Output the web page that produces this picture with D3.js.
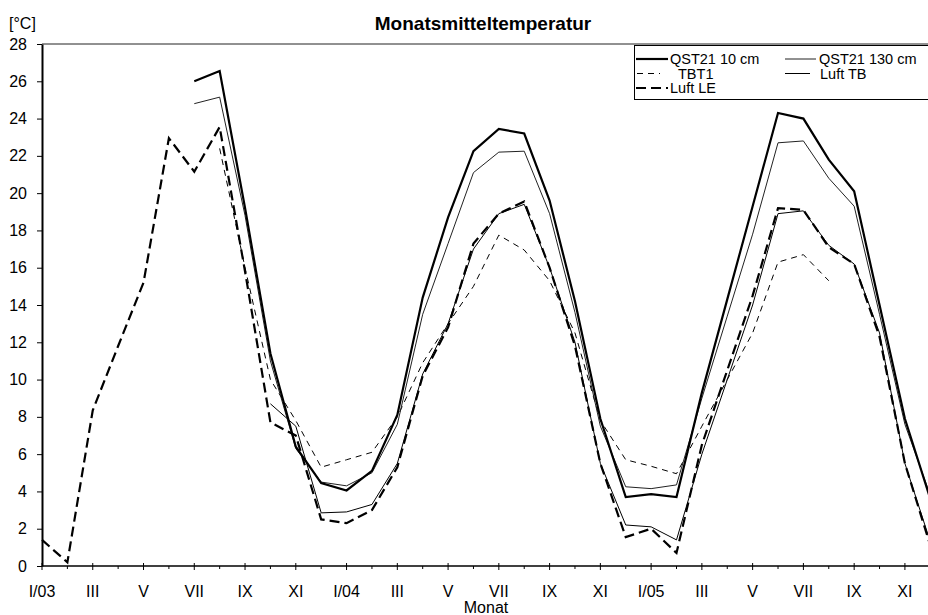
<!DOCTYPE html>
<html><head><meta charset="utf-8">
<script src="https://cdn.jsdelivr.net/npm/d3@7"></script>
<style>body{margin:0;background:#fff}svg{display:block;font-family:"Liberation Sans",Arial,sans-serif}</style>
</head><body><svg id="c" width="928" height="615"></svg>
<script>
// month index 0 = I/2003 ... 35 = XII/2005
const months = d3.range(36);
const tickLabels = ["I/03","III","V","VII","IX","XI","I/04","III","V","VII","IX","XI","I/05","III","V","VII","IX","XI"];
const yTicks = [0,2,4,6,8,10,12,14,16,18,20,22,24,26,28];
const N = null;
const qst10  = [N,N,N,N,N,N,26.0,26.55,19.2,11.4,6.4,4.45,4.05,5.1,8.1,14.4,18.7,22.25,23.45,23.2,19.6,14.2,7.9,3.7,3.85,3.7,9.3,14.3,19.3,24.3,24.0,21.8,20.1,14.0,7.9,3.6];
const qst130 = [N,N,N,N,N,N,24.8,25.15,18.8,11.0,6.3,4.5,4.3,5.0,7.6,13.5,17.3,21.1,22.2,22.25,18.9,13.6,7.5,4.25,4.15,4.35,9.0,13.4,17.8,22.7,22.8,20.8,19.3,13.5,7.6,3.8];
const tbt1   = [N,N,N,N,N,N,N,22.4,16.0,10.0,7.8,5.3,5.7,6.1,8.0,10.9,13.0,15.0,17.75,16.95,15.3,12.5,7.8,5.7,5.35,4.95,7.5,10.0,12.5,16.3,16.7,15.3,N,N,N,N];
const luftTB = [N,N,N,N,N,N,N,N,N,8.7,7.5,2.85,2.9,3.3,5.5,10.3,13.0,17.0,18.9,19.4,16.0,12.0,5.5,2.2,2.1,1.4,6.0,10.0,14.0,18.9,19.05,17.2,16.2,12.5,5.5,1.3];
const luftLE = [1.4,0.2,8.35,11.8,15.2,22.95,21.15,23.55,15.8,7.7,7.0,2.5,2.3,3.0,5.3,10.2,12.8,17.3,18.9,19.55,16.0,11.8,5.5,1.55,2.0,0.7,6.5,10.5,14.5,19.2,19.1,17.1,16.2,12.3,5.5,1.1];

const svg = d3.select("#c");
const x = d3.scaleLinear().domain([0,35]).range([42, 42+35*25.38]);
const y = d3.scaleLinear().domain([0,28]).range([566,44]);

// top border
svg.append("line").attr("x1",42).attr("x2",928).attr("y1",y(28)).attr("y2",y(28)).attr("stroke","#222").attr("stroke-width",1);

// series
const series = [
  {name:"TBT1", data:tbt1, w:1, dash:"6,5", col:"#000"},
  {name:"Luft TB", data:luftTB, w:1, dash:null, col:"#000"},
  {name:"QST21 130 cm", data:qst130, w:1, dash:null, col:"#222"},
  {name:"Luft LE", data:luftLE, w:2.2, dash:"10,5", col:"#000"},
  {name:"QST21 10 cm", data:qst10, w:2.2, dash:null, col:"#000"}
];
const line = d3.line().defined(d=>d[1]!=null).x(d=>x(d[0])).y(d=>y(d[1]));
series.forEach(s=>{
  svg.append("path").datum(months.map(m=>[m,s.data[m]]))
    .attr("d",line).attr("fill","none").attr("stroke",s.col).attr("stroke-width",s.w)
    .attr("stroke-dasharray",s.dash).attr("stroke-linejoin","miter");
});

// y axis
const ya = svg.append("g").attr("transform","translate(42,0)")
  .call(d3.axisLeft(y).tickValues(yTicks).tickSize(5).tickPadding(10).tickSizeOuter(0));
ya.select(".domain").attr("stroke","#000").attr("stroke-width",2);
ya.selectAll(".tick line").attr("stroke","#000");
ya.selectAll("text").attr("font-size",16).attr("font-family","Liberation Sans, Arial, sans-serif").attr("fill","#000");

// x axis
const xa = svg.append("g").attr("transform","translate(0,566)");
xa.append("line").attr("x1",42).attr("x2",928).attr("stroke","#000").attr("stroke-width",1.5);
xa.selectAll("line.t").data(months).join("line").attr("class","t")
  .attr("x1",d=>x(d)).attr("x2",d=>x(d))
  .attr("y1",d=>d%2===0?-3:0).attr("y2",d=>d%2===0?4:3)
  .attr("stroke","#000").attr("stroke-width",1);
xa.selectAll("text").data(tickLabels).join("text")
  .attr("x",(d,i)=>x(i*2)).attr("y",31).attr("text-anchor","middle")
  .attr("font-size",16).text(d=>d);

// titles
svg.append("text").attr("x",483).attr("y",30).attr("text-anchor","middle").attr("font-size",19).attr("font-weight","bold").text("Monatsmitteltemperatur");
svg.append("text").attr("x",9).attr("y",29).attr("font-size",16).text("[°C]");
svg.append("text").attr("x",486).attr("y",613).attr("text-anchor","middle").attr("font-size",16).text("Monat");

// legend
const lg = svg.append("g");
lg.append("rect").attr("x",634.5).attr("y",45.5).attr("width",310).attr("height",54).attr("fill","#fff").attr("stroke","#000");
const legendItems = [
  {s:series[4], x1:636, x2:668, tx:670, ty:59},
  {s:series[2], x1:785, x2:816, tx:819, ty:59},
  {s:series[0], x1:637, x2:660, tx:678, ty:73.5},
  {s:series[1], x1:785, x2:810, tx:820, ty:73.5},
  {s:series[3], x1:636, x2:668, tx:670, ty:88}
];
legendItems.forEach(it=>{
  lg.append("line").attr("x1",it.x1).attr("x2",it.x2).attr("y1",it.ty).attr("y2",it.ty)
    .attr("stroke",it.s.col).attr("stroke-width",it.s.w).attr("stroke-dasharray",it.s.dash);
  lg.append("text").attr("x",it.tx).attr("y",it.ty+5).attr("font-size",14.5).text(it.s.name);
});
</script></body></html>
